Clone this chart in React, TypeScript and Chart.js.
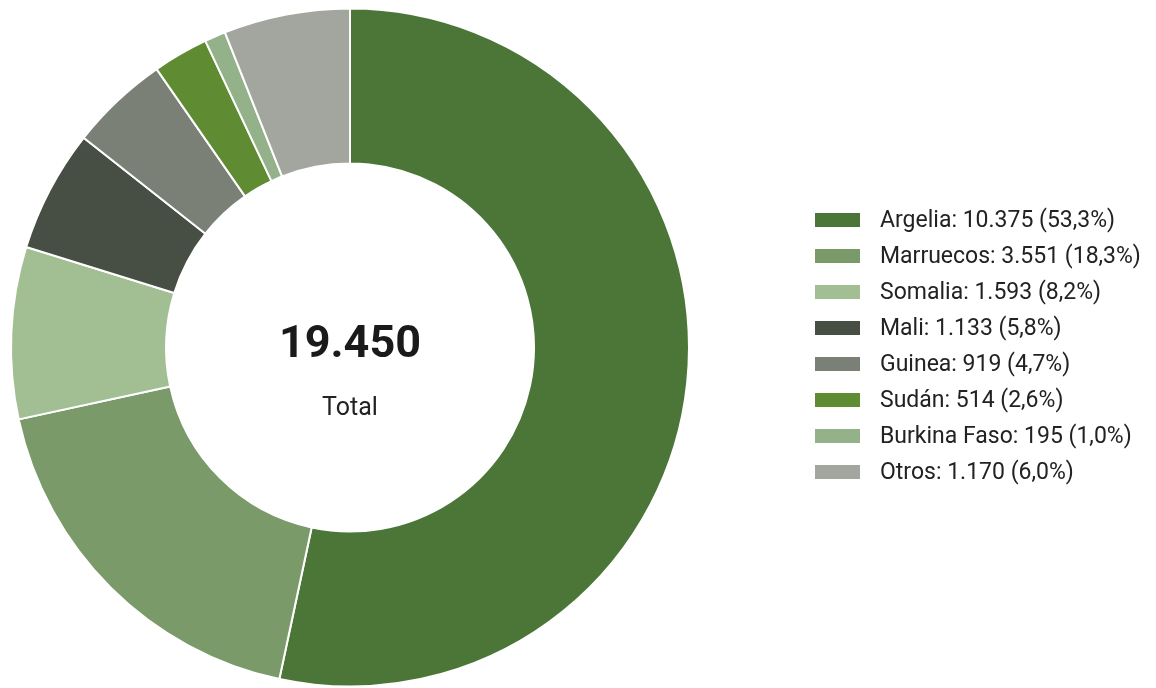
import React, { useEffect, useRef } from "react";
import { Chart, registerables } from "chart.js";

Chart.register(...registerables);

const categories = ["Argelia", "Marruecos", "Somalia", "Mali", "Guinea", "Sudán", "Burkina Faso", "Otros"];
const values = [10375, 3551, 1593, 1133, 919, 514, 195, 1170];
const colors = ["#4b7637", "#7a9a69", "#a2bf93", "#474e44", "#7b8077", "#5f8b32", "#93b28a", "#a3a69e"];
const centerLabel = "Total";

const fmtInt = (n: number) => String(Math.round(n)).replace(/\B(?=(\d{3})+(?!\d))/g, ".");
const fmtPct = (p: number) => p.toFixed(1).replace(".", ",");

const FONT = "Roboto, 'Noto Sans', sans-serif";

const overlayPlugin = {
  id: "overlay",
  afterDraw(chart: any) {
    const ctx = chart.ctx;
    const ds = chart.data.datasets[0];
    const data: number[] = ds.data;
    const total = data.reduce((a, b) => a + b, 0);
    const meta = chart.getDatasetMeta(0);
    const arc = meta.data[0];
    const cx = arc.x;
    const cy = arc.y;
    ctx.save();
    ctx.textAlign = "center";
    ctx.textBaseline = "middle";
    ctx.fillStyle = "#1a1a1a";
    ctx.font = `bold 45px ${FONT}`;
    ctx.fillText(fmtInt(total), cx, cy - 2);
    ctx.font = `25px ${FONT}`;
    ctx.fillStyle = "#222";
    ctx.fillText(centerLabel, cx, cy + 61);

    // legend
    const x0 = 815;
    const y0 = 220;
    const step = 36;
    ctx.textAlign = "left";
    ctx.font = `23px ${FONT}`;
    chart.data.labels.forEach((lab: string, i: number) => {
      const y = y0 + step * i;
      ctx.fillStyle = ds.backgroundColor[i];
      ctx.fillRect(x0, y - 7, 45, 14);
      ctx.fillStyle = "#222";
      const pct = (data[i] / total) * 100;
      ctx.fillText(`${lab}: ${fmtInt(data[i])} (${fmtPct(pct)}%)`, x0 + 65, y + 1);
    });
    ctx.restore();
  },
};

export default function App() {
  const ref = useRef<HTMLCanvasElement>(null);
  useEffect(() => {
    if (!ref.current) return;
    const chart = new Chart(ref.current, {
      type: "doughnut",
      data: {
        labels: categories,
        datasets: [
          {
            data: values,
            backgroundColor: colors,
            borderColor: "#ffffff",
            borderWidth: 2,
          },
        ],
      },
      options: {
        animation: false,
        responsive: false,
        radius: 339,
        cutout: 184,
        layout: { padding: { left: 10, right: 466, top: 7, bottom: 0 } },
        plugins: {
          legend: { display: false },
          tooltip: { enabled: false },
        },
      } as any,
      plugins: [overlayPlugin],
    });
    return () => chart.destroy();
  }, []);
  return (
    <div style={{ position: "fixed", left: 0, top: 0, width: 1156, height: 688, background: "#fff" }}>
      <canvas ref={ref} width={1156} height={688} style={{ width: 1156, height: 688 }} />
    </div>
  );
}
